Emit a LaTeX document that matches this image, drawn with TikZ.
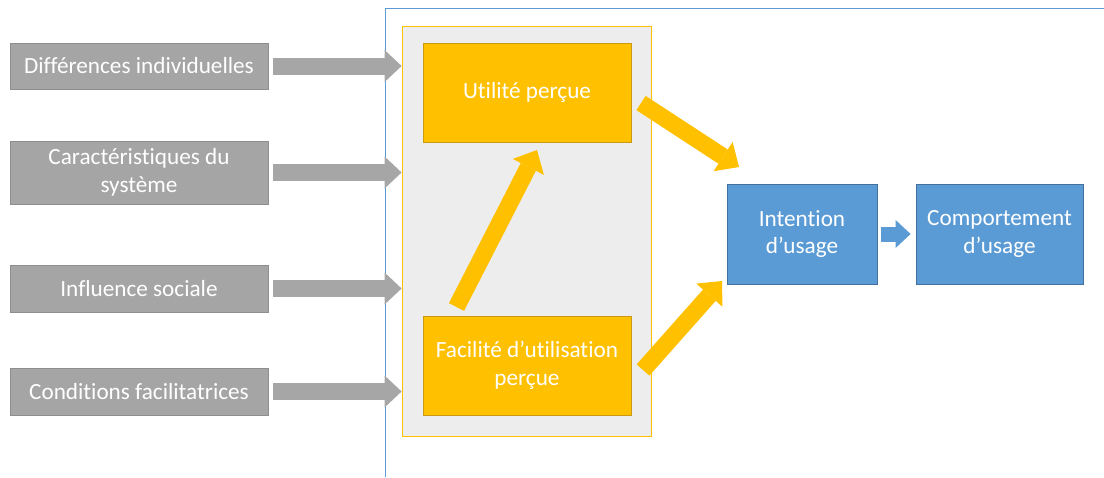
\documentclass[tikz,border=0pt]{standalone}
\usepackage{fontspec}
\setmainfont{Carlito}[Ligatures=NoCommon]
\usetikzlibrary{arrows.meta}
\definecolor{boxgray}{HTML}{A5A5A5}
\definecolor{boxgrayline}{HTML}{8E8E8E}
\definecolor{arrgray}{HTML}{A6A6A6}
\definecolor{gold}{HTML}{FFC000}
\definecolor{goldline}{HTML}{C99A12}
\definecolor{panelfill}{HTML}{EDEDED}
\definecolor{bluefill}{HTML}{5B9BD5}
\definecolor{blueline}{HTML}{41719C}
\definecolor{frameblue}{HTML}{5B9BD5}
\begin{document}
\begin{tikzpicture}[x=1pt,y=-1pt,
  txt/.style={font=\fontsize{23.2}{27.5}\selectfont, text=white, align=center, inner sep=0pt},
  graybox/.style={txt, rectangle, fill=boxgray, draw=boxgrayline, line width=0.8pt, minimum width=258pt},
  goldbox/.style={txt, rectangle, fill=gold, draw=goldline, line width=0.8pt, minimum width=208pt, minimum height=99pt},
  bluebox/.style={txt, rectangle, fill=bluefill, draw=blueline, line width=0.8pt, minimum height=100pt},
  grayarr/.style={draw=arrgray, line width=17pt, -{Triangle[length=17pt,width=32pt,line width=0pt]}},
  goldarr/.style={draw=gold, line width=17pt, -{Triangle[length=19pt,width=35pt,line width=0pt]}},
  bluearr/.style={draw=bluefill, line width=15pt, -{Triangle[length=15pt,width=28pt,line width=0pt]}}
]
\useasboundingbox (0,0) rectangle (1104,477);
% frame lines
\coordinate (fc) at (385.5,8);
\coordinate (fb) at (385.5,477);
\coordinate (fr) at (1104,8);
\draw[frameblue, line width=1pt] (fb) -- (fc) -- (fr);
% panel
\node[rectangle, fill=panelfill, draw=gold, line width=0.8pt, minimum width=249pt, minimum height=410pt, inner sep=0pt] (panel) at (526.5,231) {};
% gray boxes
\node[graybox, minimum height=46pt] (d1) at (139,66) {Différences individuelles};
\node[graybox, minimum height=63pt] (d2) at (139,172.5) {Caractéristiques du\\système};
\node[graybox, minimum height=47pt] (d3) at (139,288.5) {Influence sociale};
\node[graybox, minimum height=47pt] (d4) at (139,391.5) {Conditions facilitatrices};
% gold boxes
\node[goldbox] (u) at (527,92.5) {Utilité perçue};
\node[goldbox] (f) at (527,365.5) {Facilité d’utilisation\\perçue};
% blue boxes
\node[bluebox, minimum width=150pt] (i) at (802,234) {Intention\\d’usage};
\node[bluebox, minimum width=167pt] (c) at (999.5,234) {Comportement\\d’usage};
% gray arrows
\foreach \n in {d1,d2,d3,d4}
  \draw[grayarr] ([xshift=5pt]\n.east) -- (\n.east -| panel.west);
% gold arrows
\coordinate (a1s) at (456.5,307);
\coordinate (a1e) at (537,150);
\coordinate (a2s) at (641,103);
\coordinate (a2e) at (739,167);
\coordinate (a3s) at (643,370);
\coordinate (a3e) at (722,281);
\draw[goldarr] (a1s) -- (a1e);
\draw[goldarr] (a2s) -- (a2e);
\draw[goldarr] (a3s) -- (a3e);
% blue arrow
\draw[bluearr] ([xshift=4pt]i.east) -- ([xshift=-5pt]c.west);
\end{tikzpicture}
\end{document}
